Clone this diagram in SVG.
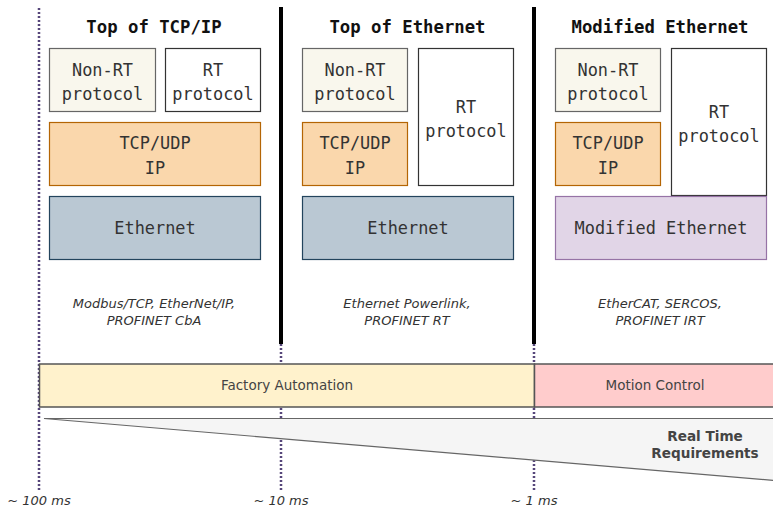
<svg xmlns="http://www.w3.org/2000/svg" width="773" height="508" viewBox="0 0 773 508">
<style>
.title{font-family:"DejaVu Sans Mono","Liberation Mono",monospace;font-weight:bold;font-size:17.3px;fill:#111;text-anchor:middle}
.mono{font-family:"DejaVu Sans Mono","Liberation Mono",monospace;font-size:16.9px;fill:#333;text-anchor:middle}
.ital{font-family:"DejaVu Sans",Verdana,sans-serif;font-style:italic;font-size:13px;fill:#333;text-anchor:middle}
.bar{font-family:"DejaVu Sans",Verdana,sans-serif;font-size:13.5px;fill:#444;text-anchor:middle}
.bold{font-family:"DejaVu Sans",Verdana,sans-serif;font-weight:bold;font-size:13.6px;fill:#444;text-anchor:middle}
.nonrt{fill:#f9f7ed;stroke:#666;stroke-width:1.2}
.rt{fill:#fff;stroke:#333;stroke-width:1.2}
.tcp{fill:#fad7ac;stroke:#b46504;stroke-width:1.2}
.eth{fill:#bac8d3;stroke:#23445d;stroke-width:1.2}
.meth{fill:#e1d5e7;stroke:#9673a6;stroke-width:1.2}
.dot{stroke:#56467a;stroke-width:2.5;stroke-dasharray:2 2;fill:none}
.sep{stroke:#000;stroke-width:4;fill:none}
</style>

<g id="connectors">
<line class="dot" x1="39" y1="8" x2="39" y2="490"/>
<line class="dot" x1="281" y1="344" x2="281" y2="490"/>
<line class="dot" x1="534" y1="344" x2="534" y2="490"/>
<line class="sep" x1="281" y1="7" x2="281" y2="344"/>
<line class="sep" x1="534" y1="7" x2="534" y2="344"/>
</g>

<g id="col1">
<text class="title" x="154" y="33">Top of TCP/IP</text>
<g id="c1-nonrt"><rect class="nonrt" x="49.5" y="48.5" width="106" height="63"/>
<text class="mono" x="102.5" y="76">Non-RT</text><text class="mono" x="102.5" y="100">protocol</text></g>
<g id="c1-rt"><rect class="rt" x="165.5" y="48.5" width="95" height="63"/>
<text class="mono" x="213" y="76">RT</text><text class="mono" x="213" y="100">protocol</text></g>
<g id="c1-tcp"><rect class="tcp" x="49.5" y="122.5" width="211" height="63"/>
<text class="mono" x="155" y="149">TCP/UDP</text><text class="mono" x="155" y="174">IP</text></g>
<g id="c1-eth"><rect class="eth" x="49.5" y="196.5" width="211" height="63"/>
<text class="mono" x="155" y="234">Ethernet</text></g>
<text class="ital" x="154" y="308">Modbus/TCP, EtherNet/IP,</text>
<text class="ital" x="154" y="325">PROFINET CbA</text>
</g>

<g id="col2">
<text class="title" x="407.5" y="33">Top of Ethernet</text>
<g id="c2-nonrt"><rect class="nonrt" x="302.5" y="48.5" width="105" height="63"/>
<text class="mono" x="355" y="76">Non-RT</text><text class="mono" x="355" y="100">protocol</text></g>
<g id="c2-tcp"><rect class="tcp" x="302.5" y="122.5" width="105" height="63"/>
<text class="mono" x="355" y="149">TCP/UDP</text><text class="mono" x="355" y="174">IP</text></g>
<g id="c2-rt"><rect class="rt" x="418.5" y="48.5" width="95" height="137"/>
<text class="mono" x="466" y="113">RT</text><text class="mono" x="466" y="137">protocol</text></g>
<g id="c2-eth"><rect class="eth" x="302.5" y="196.5" width="211" height="63"/>
<text class="mono" x="408" y="234">Ethernet</text></g>
<text class="ital" x="407" y="308">Ethernet Powerlink,</text>
<text class="ital" x="407" y="325">PROFINET RT</text>
</g>

<g id="col3">
<text class="title" x="660" y="33">Modified Ethernet</text>
<g id="c3-nonrt"><rect class="nonrt" x="555.5" y="48.5" width="105" height="63"/>
<text class="mono" x="608" y="76">Non-RT</text><text class="mono" x="608" y="100">protocol</text></g>
<g id="c3-tcp"><rect class="tcp" x="555.5" y="122.5" width="105" height="63"/>
<text class="mono" x="608" y="149">TCP/UDP</text><text class="mono" x="608" y="174">IP</text></g>
<g id="c3-rt"><rect class="rt" x="671.5" y="48.5" width="95" height="147"/>
<text class="mono" x="719" y="118">RT</text><text class="mono" x="719" y="142">protocol</text></g>
<g id="c3-eth"><rect class="meth" x="555.5" y="196.5" width="211" height="63"/>
<text class="mono" x="661" y="234">Modified Ethernet</text></g>
<text class="ital" x="660" y="308">EtherCAT, SERCOS,</text>
<text class="ital" x="660" y="325">PROFINET IRT</text>
</g>

<g id="factory">
<rect x="39.5" y="364" width="495" height="43" fill="#fff2cc" stroke="#555" stroke-width="1.5"/>
<text class="bar" x="287" y="390">Factory Automation</text>
</g>
<g id="motion">
<rect x="534.5" y="364" width="245" height="43" fill="#ffcccc" stroke="#555" stroke-width="1.5"/>
<text class="bar" x="655" y="390">Motion Control</text>
</g>

<g id="rtreq">
<path d="M44 418.5 L780 418.5 L780 481 Z" fill="#f5f5f5" stroke="#666" stroke-width="1.2"/>
<text class="bold" x="705" y="441">Real Time</text>
<text class="bold" x="705" y="458">Requirements</text>
</g>

<g id="times">
<text class="ital" x="39" y="505">~ 100 ms</text>
<text class="ital" x="281" y="505">~ 10 ms</text>
<text class="ital" x="534" y="505">~ 1 ms</text>
</g>
</svg>
